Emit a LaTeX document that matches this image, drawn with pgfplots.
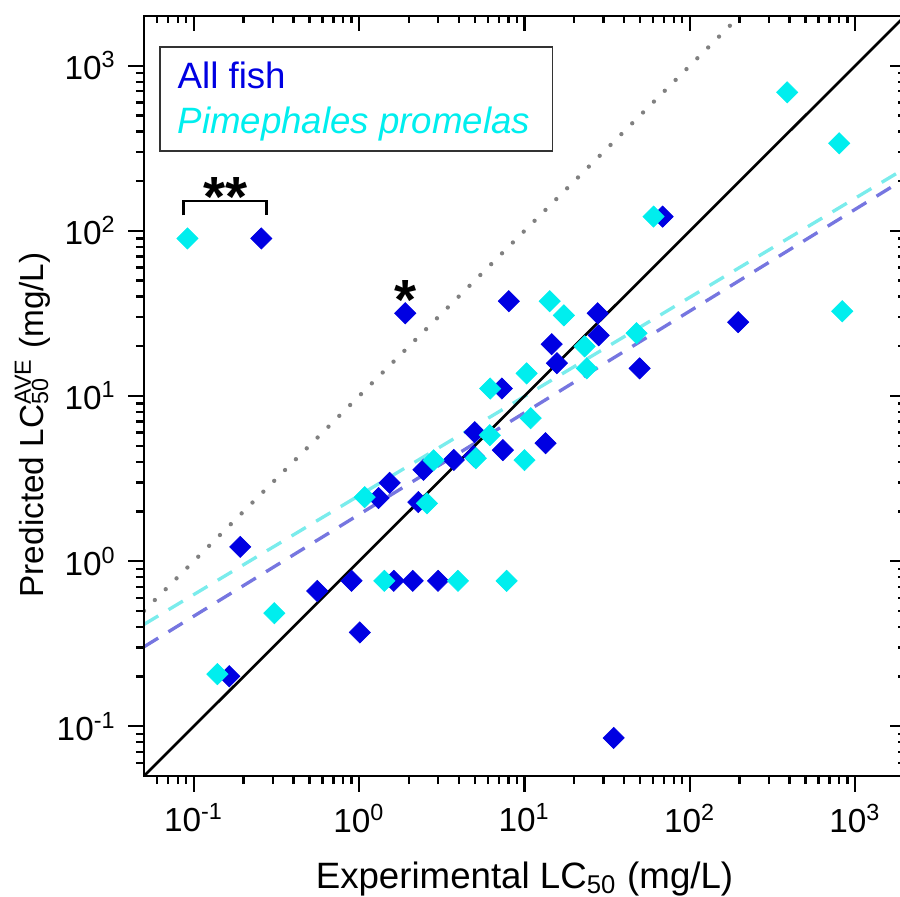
\documentclass[border=0pt]{standalone}
\usepackage{fontspec}
\setmainfont{Liberation Sans}
\usepackage{pgfplots}
\pgfplotsset{compat=1.18}

\definecolor{fishblue}{RGB}{0,0,226}
\definecolor{ppcyan}{RGB}{0,238,238}
\definecolor{fitblue}{RGB}{118,118,224}
\definecolor{fitcyan}{RGB}{122,236,236}
\definecolor{refgray}{RGB}{128,128,128}

\begin{document}
\begin{tikzpicture}
\begin{axis}[
  xmode=log, ymode=log,
  xmin=0.05, xmax=2000, ymin=0.05, ymax=2000,
  scale only axis, width=228.3pt, height=228pt,
  axis line style={line width=0.8pt},
  major tick length=4.8pt, minor tick length=2.4pt,
  every tick/.style={black, line width=0.7pt},
  xtick={0.1,1,10,100,1000}, ytick={0.1,1,10,100,1000},
  minor xtick={0.06,0.07,0.08,0.09,0.2,0.3,0.4,0.5,0.6,0.7,0.8,0.9,2,3,4,5,6,7,8,9,20,30,40,50,60,70,80,90,200,300,400,500,600,700,800,900},
  minor ytick={0.06,0.07,0.08,0.09,0.2,0.3,0.4,0.5,0.6,0.7,0.8,0.9,2,3,4,5,6,7,8,9,20,30,40,50,60,70,80,90,200,300,400,500,600,700,800,900},
  xtick pos=bottom, ytick pos=left, tick align=outside,
  xticklabels={10\textsuperscript{-1},10\textsuperscript{0},10\textsuperscript{1},10\textsuperscript{2},10\textsuperscript{3}},
  yticklabels={10\textsuperscript{-1},10\textsuperscript{0},10\textsuperscript{1},10\textsuperscript{2},10\textsuperscript{3}},
  tick label style={font=\fontsize{10}{12}\selectfont},
  xlabel={Experimental LC\textsubscript{50} (mg/L)},
  ylabel={Predicted LC\rlap{\textsubscript{50}}\textsuperscript{AVE} (mg/L)},
  xlabel style={font=\fontsize{11}{13}\selectfont, at={(axis description cs:0.5,-0.1474)}, anchor=base},
  ylabel style={font=\fontsize{10}{12}\selectfont, at={(axis description cs:-0.1327,0.462)}, anchor=base},
]
\coordinate (sw) at (rel axis cs:0,0);

% All fish
\addplot[only marks, mark=square*, mark size=2.25pt,
  mark options={rotate=45, fill=fishblue, draw=fishblue, line width=0.2pt}]
  coordinates {
  (0.256,90)(1.90,31.7)(68.4,122)(8.04,37.5)(27.7,31.7)(28.1,23.3)
  (14.6,20.6)(15.7,15.8)(49.7,14.7)(196,28.0)(7.3,11.1)(13.4,5.18)
  (5.0,6.04)(7.4,4.7)(4.94,4.32)(3.74,4.1)(2.45,3.58)(1.53,2.98)
  (1.31,2.41)(2.28,2.28)(0.191,1.22)(0.164,0.201)(0.558,0.66)
  (0.90,0.76)(1.62,0.76)(2.11,0.76)(3.0,0.76)(1.01,0.37)(34.6,0.085)
};
% Pimephales promelas
\addplot[only marks, mark=square*, mark size=2.25pt,
  mark options={rotate=45, fill=ppcyan, draw=ppcyan, line width=0.2pt}]
  coordinates {
  (0.0916,90)(388,690)(800,339)(60.3,122)(14.2,37.5)(17.3,30.8)
  (23.1,20.0)(23.8,14.7)(47.6,24.0)(834,32.6)(10.3,13.7)(6.2,11.1)
  (10.9,7.34)(6.17,5.79)(10.0,4.09)(5.08,4.2)(2.82,4.08)(2.57,2.24)
  (1.08,2.44)(0.307,0.484)(0.139,0.207)(1.42,0.76)(3.96,0.76)(7.8,0.76)
};

% power-law fits
\addplot[fitblue, line width=1pt, dash pattern=on 5pt off 3.6pt] coordinates {(0.05,0.303)(2000,207)};
\addplot[fitcyan, line width=1pt, dash pattern=on 5pt off 3.6pt] coordinates {(0.05,0.414)(2000,239)};
% 1:1 and 10:1 lines
\addplot[black, line width=0.8pt] coordinates {(0.05,0.05)(2000,2000)};
\addplot[refgray, line width=1.3pt, line cap=round, dash pattern=on 0pt off 4.6pt] coordinates {(0.05,0.5)(200,2000)};

% legend
\draw[line width=0.5pt, black!80] (rel axis cs:0.021,0.959) rectangle (rel axis cs:0.537,0.822);
\node[anchor=base west, font=\fontsize{11}{13}\selectfont, text=fishblue, inner sep=0pt]
  at (rel axis cs:0.0434,0.905) {All fish};
\node[anchor=base west, font=\fontsize{11}{13}\selectfont\itshape, text=ppcyan, inner sep=0pt]
  at (rel axis cs:0.0434,0.846) {Pimephales promelas};

% significance marks
\draw[line width=0.7pt] (axis cs:0.0867,124) -- (axis cs:0.0867,151) -- (axis cs:0.275,151) -- (axis cs:0.275,124);
\node[anchor=base, font=\fontsize{17}{17}\selectfont\bfseries, inner sep=0pt] at (axis cs:0.155,122.5) {**};
\node[anchor=base, font=\fontsize{17}{17}\selectfont\bfseries, inner sep=0pt] at (axis cs:1.92,29.2) {*};
\end{axis}

% top and right: inward ticks, no labels
\begin{axis}[
  xmode=log, ymode=log,
  xmin=0.05, xmax=2000, ymin=0.05, ymax=2000,
  scale only axis, width=228.3pt, height=228pt,
  axis line style={line width=0.8pt},
  major tick length=4.4pt, minor tick length=2.2pt,
  every tick/.style={black, line width=0.7pt},
  xtick={0.1,1,10,100,1000}, ytick={0.1,1,10,100,1000},
  minor xtick={0.06,0.07,0.08,0.09,0.2,0.3,0.4,0.5,0.6,0.7,0.8,0.9,2,3,4,5,6,7,8,9,20,30,40,50,60,70,80,90,200,300,400,500,600,700,800,900},
  minor ytick={0.06,0.07,0.08,0.09,0.2,0.3,0.4,0.5,0.6,0.7,0.8,0.9,2,3,4,5,6,7,8,9,20,30,40,50,60,70,80,90,200,300,400,500,600,700,800,900},
  xtick pos=top, ytick pos=right, tick align=inside,
  xticklabels={}, yticklabels={},
]
\end{axis}

\pgfresetboundingbox
\path[use as bounding box] ([xshift=-43.2pt,yshift=-36pt]sw) rectangle ([xshift=226.8pt,yshift=232.8pt]sw);
\end{tikzpicture}
\end{document}
